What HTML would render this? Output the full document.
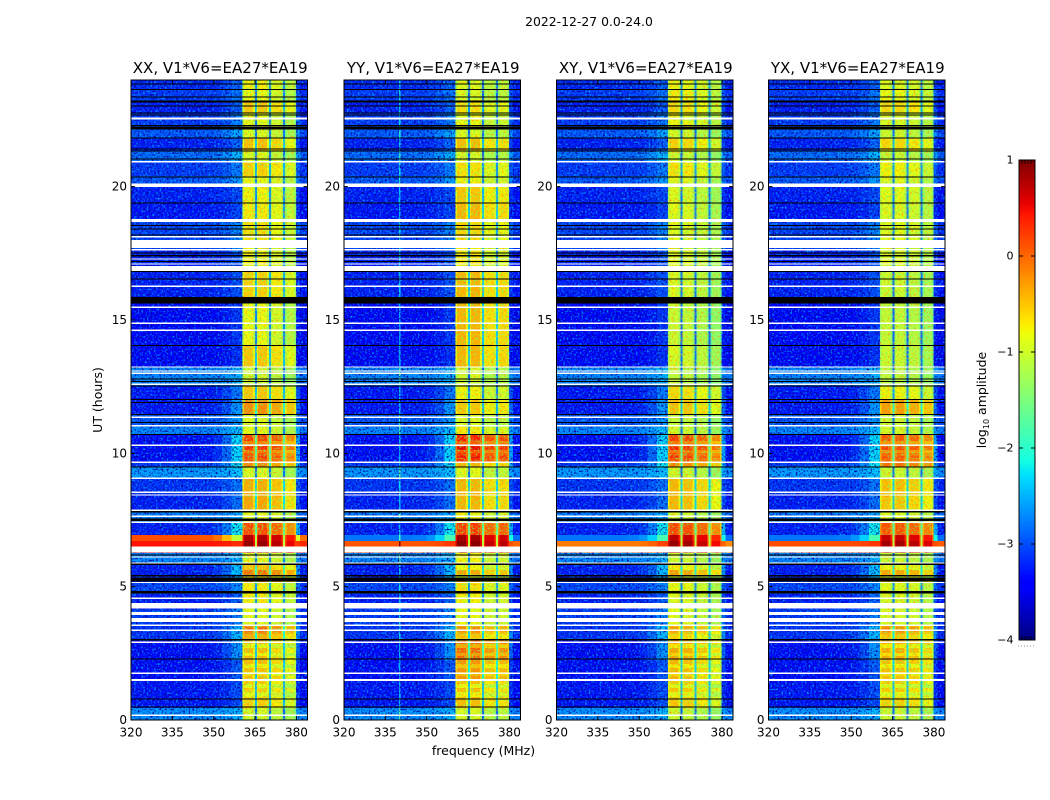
<!DOCTYPE html>
<html>
<head>
<meta charset="utf-8">
<title>2022-12-27 0.0-24.0</title>
<style>
html,body{margin:0;padding:0;background:#fff;width:1050px;height:800px;overflow:hidden}
svg{display:block}
text{font-family:"DejaVu Sans","Liberation Sans",sans-serif;fill:#000}
</style>
</head>
<body>
<svg id="chart" xmlns="http://www.w3.org/2000/svg" width="1050" height="800" viewBox="0 0 1050 800">
<defs>
<filter id="speck-light" x="0" y="0" width="1" height="1" color-interpolation-filters="sRGB">
<feTurbulence type="fractalNoise" baseFrequency="0.55" numOctaves="1" seed="3"/>
<feColorMatrix type="matrix" values="0 0 0 0 0  0 0 0 0 0.7  0 0 0 0 1  3.2 0 0 0 -1.6"/>
</filter>
<filter id="speck-dark" x="0" y="0" width="1" height="1" color-interpolation-filters="sRGB">
<feTurbulence type="fractalNoise" baseFrequency="0.55" numOctaves="1" seed="11"/>
<feColorMatrix type="matrix" values="0 0 0 0 0  0 0 0 0 0  0 0 0 0 0.6  0 3.6 0 0 -1.75"/>
</filter>
<filter id="speck-orange" x="0" y="0" width="1" height="1" color-interpolation-filters="sRGB">
<feTurbulence type="fractalNoise" baseFrequency="0.5" numOctaves="1" seed="7"/>
<feColorMatrix type="matrix" values="0 0 0 0 1  0 0 0 0 0.55  0 0 0 0 0  2.6 0 0 0 -1.3"/>
</filter>
<filter id="speck-green" x="0" y="0" width="1" height="1" color-interpolation-filters="sRGB">
<feTurbulence type="fractalNoise" baseFrequency="0.5" numOctaves="1" seed="19"/>
<feColorMatrix type="matrix" values="0 0 0 0 0.45  0 0 0 0 1  0 0 0 0 0.4  0 2.6 0 0 -1.3"/>
</filter>
</defs>
<rect x="0" y="0" width="1050" height="800" fill="#fff"/>
<text x="589" y="26" font-size="12.4" text-anchor="middle">2022-12-27 0.0-24.0</text>
<text x="483.5" y="755" font-size="12.5" text-anchor="middle">frequency (MHz)</text>
<text transform="translate(102 400) rotate(-90)" font-size="12.5" text-anchor="middle">UT (hours)</text>
<text transform="translate(986 400) rotate(-90)" font-size="12.5" text-anchor="middle">log<tspan font-size="8" dy="3">10</tspan><tspan dy="-3"> amplitude</tspan></text>
</svg>
<script>
// Chart data
var panelTitles = ["XX, V1*V6=EA27*EA19", "YY, V1*V6=EA27*EA19", "XY, V1*V6=EA27*EA19", "YX, V1*V6=EA27*EA19"];
var freqTicks = [320, 335, 350, 365, 380];
var hourTicks = [0, 5, 10, 15, 20];
var colorTicks = [1, 0, -1, -2, -3, -4];

// Time segment boundaries (UT hours, top to bottom)
var segmentEdges = [24,23.63,23.21,22.76,22.2,21.83,21.34,20.93,20.4,19.99,19.39,18.68,18.0,17.63,17.03,16.84,15.86,14.06,13.24,12.53,12.0,11.44,10.99,10.73,9.68,9.49,9.08,8.44,7.84,7.43,6.94,6.71,6.49,6.26,5.81,5.18,4.73,4.16,3.56,3.04,2.25,1.5,0.45,0];

// log10 amplitude of the out-of-band floor per segment
var lowXX = [-3.2,-3.1,-3.25,-3.1,-2.95,-3.25,-2.85,-3.1,-2.95,-3.25,-3.3,-3.05,-3.05,-3.25,-3.25,-3.25,-3.4,-3.4,-2.7,-3.3,-3.3,-2.95,-2.7,-3.35,-3.1,-2.6,-3.15,-3.25,-2.75,-3.25,0.15,0.45,0.45,-2.7,-3.25,-3.05,-3.25,-3.1,-3.15,-3.35,-3.35,-3.3,-2.65];
var lowYY = [-3.2,-3.1,-3.25,-3.1,-2.95,-3.25,-2.85,-3.1,-2.95,-3.25,-3.3,-3.05,-3.05,-3.25,-3.25,-3.25,-3.4,-3.4,-2.7,-3.3,-3.3,-2.95,-2.7,-3.35,-3.1,-2.6,-3.15,-3.25,-2.75,-3.25,-2.8,0.1,0.1,-2.7,-3.25,-3.05,-3.25,-3.1,-3.15,-3.35,-3.35,-3.3,-2.65];
var lowXY = [-3.2,-3.1,-3.25,-3.1,-2.95,-3.25,-2.85,-3.1,-2.95,-3.25,-3.3,-3.05,-3.05,-3.25,-3.25,-3.25,-3.4,-3.4,-2.7,-3.3,-3.3,-2.95,-2.7,-3.35,-3.1,-2.6,-3.15,-3.25,-2.75,-3.25,-2.8,-0.1,-0.1,-2.7,-3.25,-3.05,-3.25,-3.1,-3.15,-3.35,-3.35,-3.3,-2.65];
var lowYX = [-3.2,-3.1,-3.25,-3.1,-2.95,-3.25,-2.85,-3.1,-2.95,-3.25,-3.3,-3.05,-3.05,-3.25,-3.25,-3.25,-3.4,-3.4,-2.7,-3.3,-3.3,-2.95,-2.7,-3.35,-3.1,-2.6,-3.15,-3.25,-2.75,-3.25,-2.8,0.15,0.15,-2.7,-3.25,-3.05,-3.25,-3.1,-3.15,-3.35,-3.35,-3.3,-2.65];

// log10 amplitude just below the receiver band, per segment
var edgeLevels = [-2.8,-2.7,-2.8,-2.65,-2.4,-2.8,-2.3,-2.65,-2.5,-2.95,-3.0,-2.6,-2.6,-2.9,-2.9,-2.9,-3.05,-3.1,-2.4,-2.6,-2.4,-2.5,-2.3,-1.9,-1.9,-2.3,-2.7,-2.7,-2.45,-1.8,-1.5,0.3,0.3,-2.4,-2.1,-2.6,-2.8,-2.6,-2.2,-2.4,-2.8,-2.95,-2.4];

// log10 amplitude inside the receiver band, per segment
var bandXX = [-0.8,-0.85,-0.55,-0.9,-0.95,-0.5,-0.95,-0.6,-0.85,-0.8,-0.75,-0.7,-0.8,-0.8,-0.8,-0.6,-0.85,-0.55,-1.05,-0.55,-0.2,-0.95,-0.9,0.1,-0.2,-0.95,-0.4,-0.35,-0.9,0.15,0.75,0.85,0.85,-0.9,-0.05,-0.75,-0.75,-0.9,-0.2,-0.5,-0.5,-0.6,-1.0];
var bandYY = [-0.95,-1.0,-0.75,-0.9,-1.0,-0.55,-1.05,-0.75,-0.85,-0.6,-0.5,-0.7,-0.8,-0.8,-0.8,-0.5,-0.5,-0.5,-1.05,-0.85,-0.6,-1.0,-0.8,0.25,-0.5,-0.95,-0.5,-0.5,-0.85,0.2,0.75,0.85,0.85,-0.85,-0.4,-0.75,-0.85,-0.9,-0.4,-0.05,-0.3,-0.55,-1.0];
var bandXY = [-0.8,-0.75,-0.65,-0.8,-1.0,-0.6,-1.05,-0.7,-0.9,-0.95,-0.9,-0.9,-0.9,-0.9,-0.9,-0.95,-1.05,-0.95,-1.1,-0.65,-0.5,-1.05,-1.0,0.15,-0.2,-1.0,-0.45,-0.45,-1.0,0.2,0.7,0.85,0.85,-1.0,-0.3,-0.85,-0.9,-0.9,-0.45,-0.35,-0.45,-0.55,-1.05];
var bandYX = [-0.85,-0.8,-0.6,-0.9,-1.0,-0.6,-1.05,-0.75,-0.9,-0.85,-0.9,-0.85,-0.9,-0.9,-0.9,-1.0,-1.05,-1.0,-1.1,-0.75,-0.25,-1.0,-0.95,0.05,0.0,-1.0,-0.45,-0.5,-0.9,0.15,0.7,0.85,0.85,-1.0,-0.3,-0.85,-0.9,-0.9,-0.3,-0.35,-0.45,-0.55,-1.0];

// Offset of each of the four sub-bands relative to the band level
var subbandXX = [0.05, 0.05, -0.1, -0.3];
var subbandYY = [0.1, 0.1, -0.15, -0.1];
var subbandXY = [0.05, 0, -0.15, -0.35];
var subbandYX = [0, 0, -0.1, -0.25];

// Frequency channels (MHz edges)
var channelEdges = [320,340,340.4,345,350,353,356.5,360.4,361,364.3,364.9,365.6,366.1,369.4,370,370.7,371.2,374.5,375.1,375.8,376.3,379.3,379.8,381.3,384];
// Channel type: l = floor, r = single-channel interference line, b = sub-band body, e = sub-band edge, g = gap, h = above band
var channelTypes = ["l","r","l","l","l","l","l","e","b","e","g","e","b","e","g","e","b","e","g","e","b","e","h","h"];
// Blend factor between floor and near-band level in each floor channel
var channelBlend = [0,0,0,0.03,0.12,0.35,0.75,0,0,0,0,0,0,0,0,0,0,0,0,0,0,0,0.6,0.05];
// Sub-band index for each in-band channel
var channelBand = [0,0,0,0,0,0,0,0,0,0,0,1,1,1,1,2,2,2,2,3,3,3,0,0];
var rfiGain = [0, 0.9, 0, 0];

// Finer stripes inside the band: top hour, bottom hour, level change
var stripeTops = [10.73,10.46,10.31,10.13,9.9,5.81,5.44,3.49,3.23,2.85,2.51,2.1,1.8,1.35,1.05];
var stripeBottoms = [10.46,10.31,10.13,10.01,9.83,5.63,5.33,3.3,3.04,2.7,2.4,1.95,1.65,1.2,0.86];
var stripeDeltas = [0.1,-0.25,0.2,-0.2,0.15,-0.5,-0.7,0.15,-0.2,-0.4,-0.3,-0.3,-0.2,-0.35,-0.3];

// Flagged time rows: centre hour, thickness in hours, kind (w = no data, k = zero amplitude)
var flagHours = [23.85,23.65,23.36,23.19,23.03,22.76,22.69,22.56,22.29,22.2,21.83,21.41,21.34,21.04,20.93,20.37,20.06,19.39,18.73,18.54,18.41,18.19,18.12,17.85,17.63,17.52,17.41,17.29,17.19,17.1,16.93,16.82,16.53,16.26,15.74,15.48,14.88,14.61,14.05,13.24,13.09,13.0,12.78,12.69,12.59,12.53,12.02,11.9,11.45,11.35,11.16,11.03,10.71,10.3,9.66,9.48,9.06,8.54,8.44,7.85,7.81,7.64,7.51,7.42,6.39,6.19,6.11,5.88,5.84,5.41,5.26,5.16,4.79,4.56,4.28,3.99,3.75,3.55,3.36,3.01,2.91,2.28,1.75,1.5,0.78,0.48,0.18];
var flagWidths = [0.04,0.04,0.04,0.08,0.04,0.04,0.04,0.07,0.04,0.1,0.04,0.04,0.04,0.04,0.05,0.04,0.13,0.04,0.12,0.04,0.04,0.04,0.05,0.3,0.06,0.04,0.04,0.05,0.04,0.05,0.19,0.04,0.04,0.05,0.24,0.05,0.05,0.05,0.04,0.05,0.05,0.05,0.04,0.04,0.05,0.04,0.04,0.04,0.04,0.05,0.04,0.05,0.04,0.05,0.05,0.04,0.05,0.05,0.05,0.07,0.04,0.05,0.08,0.05,0.225,0.04,0.05,0.05,0.04,0.04,0.15,0.04,0.08,0.05,0.21,0.11,0.14,0.05,0.05,0.04,0.05,0.04,0.05,0.07,0.04,0.04,0.05];
var flagKinds = "kkkkkkkwkkkkkkwkwkwkkkwwwkkwkwwkkwkwwwkwwwkkwkkkkwkwkwwkwwwwkwkwwkwwkkkwkwwwwwwkwkwwkkw";

var lows = [lowXX, lowYY, lowXY, lowYX];
var bands = [bandXX, bandYY, bandXY, bandYX];
var subbands = [subbandXX, subbandYY, subbandXY, subbandYX];
var panelNames = ["xx", "yy", "xy", "yx"];

// Layout
var panelLefts = [131, 344, 556.5, 768.5];
var panelWidth = 176.5;
var plotTop = 80, plotBottom = 720;
var cbLeft = 1019, cbRight = 1035, cbTop = 160, cbBottom = 640;
var NS = "http://www.w3.org/2000/svg";
var svg = document.getElementById("chart");

function xScale(left, mhz) { return left + (mhz - 320) * panelWidth / 64; }
function yScale(h) { return plotBottom - h * (plotBottom - plotTop) / 24; }
function cScale(v) { return cbBottom - (v + 4) * (cbBottom - cbTop) / 5; }

function interp(stops, t) {
  for (var i = 1; i < stops.length; i++) {
    if (t <= stops[i][0]) {
      var a = stops[i - 1], b = stops[i];
      return a[1] + (b[1] - a[1]) * (t - a[0]) / (b[0] - a[0]);
    }
  }
  return stops[stops.length - 1][1];
}
var jetR = [[0,0],[0.35,0],[0.66,1],[0.89,1],[1,0.5]];
var jetG = [[0,0],[0.125,0],[0.375,1],[0.64,1],[0.91,0],[1,0]];
var jetB = [[0,0.5],[0.11,1],[0.34,1],[0.65,0],[1,0]];
function jet(level) {
  var t = Math.max(0, Math.min(1, (level + 4) / 5));
  return "rgb(" + Math.round(255 * interp(jetR, t)) + "," + Math.round(255 * interp(jetG, t)) + "," + Math.round(255 * interp(jetB, t)) + ")";
}
function mk(tag, parent, attrs) {
  var el = document.createElementNS(NS, tag);
  for (var k in attrs) el.setAttribute(k, attrs[k]);
  parent.appendChild(el);
  return el;
}
function cellLevel(p, s, c) {
  var low = lows[p][s], edge = edgeLevels[s], band = bands[p][s];
  var type = channelTypes[c];
  if (type === "b") return band + subbands[p][channelBand[c]];
  if (type === "e") return band + subbands[p][channelBand[c]] - 0.35;
  if (type === "g") return band - 1.9;
  if (type === "r") return low + rfiGain[p];
  if (type === "h") return low + (edge - low) * channelBlend[c] - 0.1;
  return low + (edge - low) * channelBlend[c];
}
function segmentAt(h) {
  for (var s = 0; s < segmentEdges.length - 1; s++) {
    if (h <= segmentEdges[s] && h > segmentEdges[s + 1]) return s;
  }
  return segmentEdges.length - 2;
}

panelTitles.forEach(function (title, p) {
  var left = panelLefts[p], right = left + panelWidth;
  var g = mk("g", svg, {});
  
  
  var heat = mk("g", g, { "shape-rendering": "crispEdges" });
  
  
  for (var s = 0; s < segmentEdges.length - 1; s++) {
    for (var c = 0; c < channelEdges.length - 1; c++) {
      var cell = mk("rect", heat, {
        x: xScale(left, channelEdges[c]),
        y: yScale(segmentEdges[s]),
        width: xScale(left, channelEdges[c + 1]) - xScale(left, channelEdges[c]) + 0.4,
        height: yScale(segmentEdges[s + 1]) - yScale(segmentEdges[s]) + 0.4,
        fill: jet(cellLevel(p, s, c))
      });
      
      
    }
  }
  stripeTops.forEach(function (top, i) {
    var seg = segmentAt(top - 0.001);
    for (var c = 0; c < channelEdges.length - 1; c++) {
      if (channelTypes[c] !== "b") continue;
      var stripe = mk("rect", heat, {
        x: xScale(left, channelEdges[c]),
        y: yScale(top),
        width: xScale(left, channelEdges[c + 1]) - xScale(left, channelEdges[c]),
        height: yScale(stripeBottoms[i]) - yScale(top),
        fill: jet(cellLevel(p, seg, c) + stripeDeltas[i])
      });
      
      
    }
  });
  // Fine grain texture, left off the saturated interference rows (6.94 to 6.49 h)
  [[24, 6.94], [6.49, 0]].forEach(function (hours) {
    [[320, 360.4, "speck-light"], [320, 360.4, "speck-dark"], [380, 384, "speck-light"], [380, 384, "speck-dark"], [360.4, 380, "speck-orange"], [360.4, 380, "speck-green"]].forEach(function (span) {
      var tex = mk("rect", heat, {
        x: xScale(left, span[0]), y: yScale(hours[0]),
        width: xScale(left, span[1]) - xScale(left, span[0]),
        height: yScale(hours[1]) - yScale(hours[0]),
        filter: "url(#" + span[2] + ")"
      });
      
      
    });
  });
  flagHours.forEach(function (h, i) {
    var row = mk("rect", heat, {
      x: left,
      y: yScale(h + flagWidths[i] / 2),
      width: panelWidth,
      height: Math.max(1, yScale(h - flagWidths[i] / 2) - yScale(h + flagWidths[i] / 2)),
      fill: flagKinds.charAt(i) === "w" ? "#fff" : "#000"
    });
    
    
  });
  var frame = mk("rect", g, { x: left, y: plotTop, width: panelWidth, height: plotBottom - plotTop, fill: "none", stroke: "#000", "stroke-width": 1 });
  
  
  var t = mk("text", g, { x: left + panelWidth / 2 + 1, y: 73, "font-size": 15, "text-anchor": "middle" });
  t.textContent = title;
  
  
  freqTicks.forEach(function (f) {
    var x = xScale(left, f);
    var tick = mk("path", g, { d: "M" + x + " " + plotBottom + "v-4M" + x + " " + plotTop + "v4", stroke: "#000", "stroke-width": 1, fill: "none" });
    
    
    var lab = mk("text", g, { x: x, y: 736.5, "font-size": 12, "text-anchor": "middle" });
    lab.textContent = String(f);
    
    
  });
  hourTicks.forEach(function (h) {
    var y = yScale(h);
    var tick = mk("path", g, { d: "M" + left + " " + y + "h4M" + right + " " + y + "h-4", stroke: "#000", "stroke-width": 1, fill: "none" });
    
    
    var lab = mk("text", g, { x: left - 4, y: y + 4, "font-size": 12, "text-anchor": "end" });
    lab.textContent = String(h);
    
    
  });
});

// Colorbar
var cb = mk("g", svg, {});


var cbStrip = mk("g", cb, { "shape-rendering": "crispEdges" });


for (var v = -4; v < 1; v += 0.02) {
  var swatch = mk("rect", cbStrip, { x: cbLeft, y: cScale(v + 0.02), width: cbRight - cbLeft, height: cScale(v) - cScale(v + 0.02) + 0.5, fill: jet(v + 0.01) });
  
  
}
var cbFrame = mk("rect", cb, { x: cbLeft, y: cbTop, width: cbRight - cbLeft, height: cbBottom - cbTop, fill: "none", stroke: "#000", "stroke-width": 1 });


var cbEndTicks = mk("path", cb, { d: "M1022 160v4M1025 160v4M1028 160v4M1031 160v4M1022 640v-4M1025 640v-4M1028 640v-4M1031 640v-4", stroke: "#000", "stroke-width": 0.8, fill: "none" });


var cbDots = mk("path", cb, { d: "M1018 646H1035", stroke: "#999", "stroke-width": 1, "stroke-dasharray": "1 2", fill: "none" });


colorTicks.forEach(function (v) {
  var y = cScale(v);
  var tick = mk("path", cb, { d: "M" + cbLeft + " " + y + "h4M" + cbRight + " " + y + "h-4", stroke: "#000", "stroke-width": 1, fill: "none" });
  
  
  var lab = mk("text", cb, { x: cbLeft - 5.5, y: y + 3.5, "font-size": 11, "text-anchor": "end" });
  lab.textContent = (v < 0 ? "\u2212" + (-v) : String(v));
  
  
});
</script>
</body>
</html>
